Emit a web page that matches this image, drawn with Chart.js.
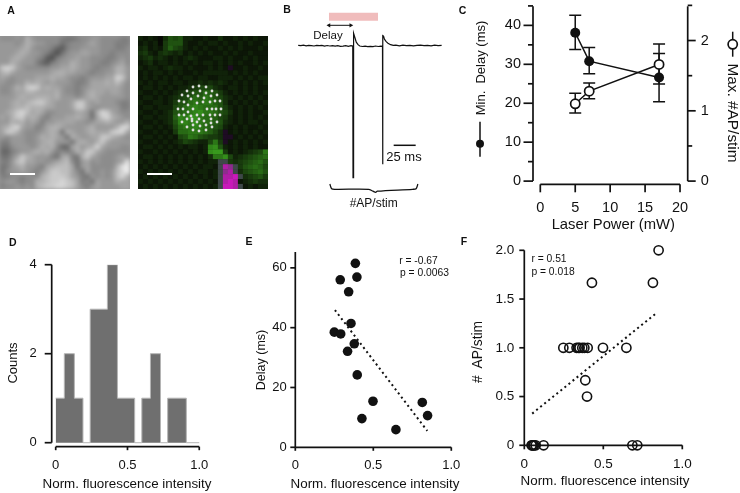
<!DOCTYPE html>
<html>
<head>
<meta charset="utf-8">
<title>Figure</title>
<script src="https://cdn.jsdelivr.net/npm/chart.js"></script>
<style>
body { margin: 0; background: #fff; }
#page { position: relative; width: 740px; height: 493px; overflow: hidden; font-family: "Liberation Sans", Arial, sans-serif; color: #111; }
#page > canvas { position: absolute; left: 0; top: 0; }
.lbl { position: absolute; white-space: pre; line-height: 1; transform: translate(-50%, -50%); }
.img { position: absolute; top: 36px; width: 130px; height: 153px; overflow: hidden; }
.img canvas { position: absolute; left: -10px; top: -10px; }
.bar { position: absolute; height: 2px; width: 25px; background: #fff; top: 172.7px; }
svg { position: absolute; left: 0; top: 0; }
</style>
</head>
<body>
<div id="page">
  <div class="img" style="left:0"><canvas id="grayImg" width="150" height="173" style="background:#999;filter:blur(2px)"></canvas></div>
  <div class="img" style="left:137.5px;outline:1px solid #999;outline-offset:-1px"><canvas id="greenImg" width="150" height="173" style="background:#111;filter:blur(.6px)"></canvas></div>
  <div class="bar" style="left:10px"></div>
  <div class="bar" style="left:147.3px"></div>
  <svg width="740" height="493">
    <line x1="480" y1="121.7" x2="480" y2="156.7" stroke="#111" stroke-width="1.5"/>
    <circle cx="480" cy="143.7" r="4" fill="#111"/>
    <line x1="732.7" y1="31.7" x2="732.7" y2="56.7" stroke="#111" stroke-width="1.5"/>
    <circle cx="732.7" cy="44.3" r="4.6" fill="#fff" stroke="#111" stroke-width="1.7"/>
  </svg>
</div>
<script>
// panel A, bright field (one hex digit per cell, dark to light)
const grayRows = [
"77787a87777765567788777766",
"88878a98877756777898777666",
"88889a87776436778888777667",
"8889a988764257889988776777",
"889a9887632678898877766787",
"88a98886436788a98877667897",
"cdc98777778899a98876778aa8",
"ab988888889aa9988767788aa8",
"9878888999a998776788899dc8",
"87788a9a9898887667999a9b97",
"778a9cdc9a9987767899999987",
"77899aa9999a877679a9989987",
"8889a99aaa9a888789a9888887",
"889a9abcca98889cc989888766",
"889aabaaa998889cc987888866",
"89acdb9a97788889985adc9877",
"98acc9a97688899a9859cda987",
"88a9a8986889999887899a988a",
"9acd988679aa988889a8888add",
"9cca877789a95a9889a999cdd9",
"87888778a9a985a98899cca987",
"668887789aa88859a98ac98888",
"55788878a9a7449a89ad988877",
"4467889a9a86767a9cc9877777",
"5579ca9888659a65ac98777898",
"668bc9988789ab75897877789e",
"5689a88769abbb958977777aef",
"578898768accbb975977878bdf",
"66776777abcccb986587878bda",
"7887677aabccdcb96759888a99",
"6778787abccddcb97689888899"
];
// panel A, fluorescence (0-f green, g grey, m n p magenta, q dark purple)
const greenRows = [
"21210365622112113112121211",
"12120466621121221211212112",
"23121475421212112121211121",
"34213432312121211212112111",
"23423212123211122121121211",
"12312212121212212121211212",
"212212322121112121q1121121",
"12122121211212222212121211",
"12121212122122112221212122",
"21212212212232323212121212",
"12212121223455532122121211",
"21121212345668764212121212",
"12212123456879865321212121",
"21122124668989976312121212",
"12212225689a98886421212121",
"21121236789ab9986531212112",
"12212237a9bb98875421212121",
"21121236aa9b98876321212212",
"12212125899a98765212121121",
"21121214889998753q12121212",
"12212121569865443qq1212121",
"21121212354322594q12121212",
"12212121212212ab6212121211",
"21121212121212bcc412123459",
"12212121212121399b52345678",
"2121212121212122gg43456786",
"1212121212121221gmng467875",
"2121212121212212gnmg356786",
"1212121212121212gmmpg34564",
"2121212121212121gmpm123433",
"1212121212121212gppmg12122"
];
// photostimulation spots on the fluorescence image
const spotX = [55,61,68,49,55,62,68,74,44,50,60,66,73,79,53,41,46,59,65,72,77,82,50,40,45,55,69,74,78,83,50,41,46,53,59,65,72,77,82,49,54,61,66,73,44,54,59,79,73,49,55,62,68,74,55,61,68];
const spotY = [51,50,51,55,57,55,57,55,59,60,60,62,60,59,63,65,66,67,66,66,65,65,69,73,73,73,73,73,73,73,76,79,79,80,79,79,79,79,79,83,83,83,85,83,86,85,86,86,87,91,89,90,89,91,94,95,94];

// panel B, recorded trace (ms, arbitrary units)
const traceTime = [-35,-32,-29,-26,-23,-20,-17,-14,-11,-8,-5,-2,1,4,7,10,13,16,19,22,25,27,27.3,27.5,28.4,29.5,31,33,35,38,41,44,47,50,53,56,59,60.8,61,61.2,62,63,65,67,70,73,76,80,84,88,92,96,100,104,108,112,116,120,124,128];
const traceValue = [.3,0,.5,-.2,.4,.1,-.3,.4,0,.3,-.4,.2,-.3,.1,-.5,0,-.7,-.4,.1,-.6,0,-.4,-132,12,12.4,8,3.5,1,-.3,-.8,-.4,-1,-.6,-1,-.3,-.8,-.5,-.6,-118.6,10,9.5,6.5,4,2.5,1,.3,.6,-.1,.5,0,.4,-.2,.3,.6,0,.4,-.1,.5,.1,.3];
const stimTime = [0, 55.7];
const delayTime = [0, 24.7];
const scaleBarTime = [73.5, 98.5];
const braceTime = [1,3,7,45,50,53,55,95,99,101];
const braceValue = [-138.3,-143,-143.6,-143.6,-145.5,-146.6,-145.5,-143.6,-143,-138.3];

// panel C
const laserPower = [5, 7, 17];
const minDelay = [38.1, 30.8, 26.6];
const minDelayLow = [33.8, 27.6, 20.4];
const minDelayHigh = [42.6, 34.3, 32.8];
const maxAp = [1.10, 1.28, 1.66];
const maxApLow = [.968, 1.17, 1.38];
const maxApHigh = [1.25, 1.396, 1.95];
const cTickX = [0, 5, 10, 15, 20];
const cTickY = [0, 10, 20, 30, 40];
const cMinorY = [5, 15, 25, 35, 45];
const cTickAp = [0, 1, 2];
const cMinorAp = [.5, 1.5, 2.5];

// panel D
const histEdges = [0,.06,.13,.19,.24,.36,.43,.55,.6,.66,.73,.78,.91,1];
const histCounts = [1,2,1,0,3,4,1,0,1,2,0,1,0,0];
const dTickY = [0, 2, 4];

// panel E
const eIntensity = [.385,.395,.288,.342,.357,.25,.291,.378,.335,.397,.498,.814,.848,.427,.645];
const eDelay = [61.5,56.9,56,52,41.4,38.5,37.9,34.6,32.1,24.2,15.4,15,10.6,9.6,5.9];
const eFitX = [.254, .846];
const eFitY = [45.9, 5.5];
const eTickY = [0, 20, 40, 60];

// panel F
const fIntensity = [.85,.428,.814,.247,.285,.331,.342,.35,.367,.38,.401,.498,.646,.386,.397,.046,.05,.057,.062,.072,.122,.684,.715];
const fAp = [2,1.667,1.667,1,1,1,1,1,1,1,1,1,1,.667,.5,0,0,0,0,0,0,0,0];
const fFitX = [.05, .829];
const fFitY = [.325, 1.347];
const fTickY = [0, .5, 1, 1.5, 2];
const fTickLabels = ["0", "0.5", "1.0", "1.5", "2.0"];

const normTicks = [0, .5, 1];
const normLabels = ["0", "0.5", "1.0"];

// text placed on the page: text, x, y, size, rotation, weight
const pageText = [
  ["A", 11, 10, 10.5, 0, "bold"], ["B", 287, 8.5, 10.5, 0, "bold"], ["C", 462.5, 10, 10.5, 0, "bold"],
  ["D", 12.7, 242.3, 10.5, 0, "bold"], ["E", 249, 241, 10.5, 0, "bold"], ["F", 464, 241, 10.5, 0, "bold"],
  ["Delay", 328, 36, 11.5], ["25 ms", 404, 156, 13], ["#AP/stim", 373.7, 203, 12],
  ["Min.  Delay (ms)", 480, 68, 13, -90], ["Max. #AP/stim", 732.7, 113, 15.4, 90], ["Laser Power (mW)", 613.3, 224.3, 14.8],
  ["Counts", 12.3, 363.3, 13, -90], ["Norm. fluorescence intensity", 127, 484.3, 13.4],
  ["Delay (ms)", 260.7, 359.6, 12.5, -90], ["Norm. fluorescence intensity", 375, 484, 13.4],
  ["r = -0.67", 418.5, 260.7, 10.3], ["p = 0.0063", 424.5, 273.3, 10.3],
  ["#  AP/stim", 478, 352.3, 13.8, -90], ["Norm. fluorescence intensity", 605, 480.7, 13.4],
  ["r = 0.51", 549, 259.3, 10.3], ["p = 0.018", 553, 272.3, 10.3]
];

const page = document.getElementById("page");
pageText.forEach(([text, x, y, size, rot, weight]) => {
  const el = document.createElement("div");
  el.className = "lbl";
  el.textContent = text;
  el.style.left = x + "px";
  el.style.top = y + "px";
  el.style.fontSize = size + "px";
  if (weight) el.style.fontWeight = weight;
  if (rot) el.style.transform = "translate(-50%,-50%) rotate(" + rot + "deg)";
  page.appendChild(el);
});

Chart.defaults.font.family = '"Liberation Sans", Arial, sans-serif';
Chart.defaults.color = "#111";

// axis lines and tick marks, offset from the data like the original figure
const spinesPlugin = {
  id: "spines",
  afterDatasetsDraw(chart, args, opts) {
    const ctx = chart.ctx, area = chart.chartArea;
    ctx.save();
    ctx.strokeStyle = "#111";
    ctx.lineWidth = 1.7;
    (opts.list || []).forEach(s => {
      const sc = chart.scales[s.scale];
      const line = (x1, y1, x2, y2) => { ctx.beginPath(); ctx.moveTo(x1, y1); ctx.lineTo(x2, y2); ctx.stroke(); };
      const ticks = [...s.major.map(v => [v, s.len]), ...(s.minor || []).map(v => [v, s.minorLen])];
      if (s.side === "bottom") {
        line(sc.getPixelForValue(s.from), area.bottom, sc.getPixelForValue(s.to), area.bottom);
        ticks.forEach(([v, l]) => line(sc.getPixelForValue(v), area.bottom, sc.getPixelForValue(v), area.bottom + l));
      } else {
        const x0 = s.side === "left" ? area.left : area.right, dir = s.side === "left" ? -1 : 1;
        line(x0, sc.getPixelForValue(s.from), x0, sc.getPixelForValue(s.to));
        ticks.forEach(([v, l]) => line(x0, sc.getPixelForValue(v), x0 + dir * l, sc.getPixelForValue(v)));
      }
    });
    ctx.restore();
  }
};

// vertical error bars with caps, drawn under the points
const errorBarsPlugin = {
  id: "errorBars",
  beforeDatasetsDraw(chart, args, opts) {
    const ctx = chart.ctx;
    ctx.save();
    ctx.strokeStyle = "#111";
    ctx.lineWidth = 1.5;
    (opts.list || []).forEach(e => {
      const sx = chart.scales.x, sy = chart.scales[e.scale];
      e.x.forEach((v, i) => {
        const px = sx.getPixelForValue(v), lo = sy.getPixelForValue(e.low[i]), hi = sy.getPixelForValue(e.high[i]);
        ctx.beginPath();
        ctx.moveTo(px, lo); ctx.lineTo(px, hi);
        ctx.moveTo(px - 6, lo); ctx.lineTo(px + 6, lo);
        ctx.moveTo(px - 6, hi); ctx.lineTo(px + 6, hi);
        ctx.stroke();
      });
    });
    ctx.restore();
  }
};
Chart.register(spinesPlugin, errorBarsPlugin);

const pts = (xs, ys) => xs.map((x, i) => ({ x: x, y: ys[i] }));
const AXIS_BOX = 36;

function linearAxis(min, max, ticks, labels, padding, size, position) {
  return {
    type: "linear", position: position, min: min, max: max,
    grid: { display: false, drawTicks: false }, border: { display: false },
    afterBuildTicks: s => { s.ticks = ticks.map(v => ({ value: v })); },
    afterFit: s => { if (s.isHorizontal()) s.height = AXIS_BOX; else s.width = AXIS_BOX; s.paddingLeft = s.paddingRight = s.paddingTop = s.paddingBottom = 0; },
    ticks: { padding: padding, autoSkip: false, maxRotation: 0, font: { size: size },
      callback: (v, i) => labels ? labels[i] : String(v) }
  };
}

function panel(area, datasets, scales, plugins) {
  const canvas = document.createElement("canvas");
  canvas.width = 740;
  canvas.height = 493;
  page.appendChild(canvas);
  const pad = { left: area[0], top: area[1], right: 740 - area[2], bottom: 493 - area[3] };
  if (scales.y && scales.y.afterFit) { pad.left -= AXIS_BOX; pad.bottom -= AXIS_BOX; }
  if (scales.y1) pad.right -= AXIS_BOX;
  return new Chart(canvas, {
    type: "scatter",
    data: { datasets: datasets },
    options: {
      responsive: false, animation: false, events: [],
      layout: { padding: pad },
      scales: scales,
      plugins: Object.assign({ legend: { display: false }, tooltip: { enabled: false } }, plugins)
    }
  });
}

const hidden = (min, max, reverse) => ({ type: "linear", display: false, min: min, max: max, reverse: !!reverse });

// panel A images are cell grids
function cellChart(id, rows, colorOf, extra) {
  const cells = [], colors = [];
  rows.forEach((row, r) => {
    for (let c = 0; c < 26; c++) {
      cells.push({ x: c + .5, y: r + .5 });
      colors.push(colorOf(row[c] || rows[r - 1][c]));
    }
  });
  new Chart(document.getElementById(id), {
    type: "scatter",
    data: { datasets: [...extra, { data: cells, pointStyle: "rect", pointRadius: 3.7, pointBorderWidth: 0, pointBackgroundColor: colors, clip: false }] },
    options: {
      responsive: false, animation: false, events: [],
      layout: { padding: 10 },
      scales: { x: hidden(0, 26), y: hidden(0, 31, true) },
      plugins: { legend: { display: false }, tooltip: { enabled: false } }
    }
  });
}
cellChart("grayImg", grayRows, d => {
  const v = 52 + parseInt(d, 16) * 12.5;
  return "rgb(" + v + "," + v + "," + v + ")";
}, []);
const specialCells = { m: "rgb(175,30,165)", n: "rgb(140,45,140)", p: "rgb(200,25,185)", q: "rgb(30,12,35)", g: "rgb(62,72,72)" };
cellChart("greenImg", greenRows, d => {
  if (specialCells[d]) return specialCells[d];
  const v = parseInt(d, 16);
  return "rgb(" + (8 + v * 4) + "," + (10 + v * 12) + "," + (5 + v * 2) + ")";
}, [{ data: pts(spotX.map(x => x * 26 / 130), spotY.map(y => y * 31 / 153)), pointRadius: 1.4, pointBorderWidth: 0, pointBackgroundColor: "#ddd", clip: false }]);

// panel B
panel([290, 5, 450, 210], [
  { data: pts(traceTime, traceValue), showLine: true, borderColor: "#111", borderWidth: 1.2, pointRadius: 0 },
  { data: pts(stimTime, [28.9, 28.9]), showLine: true, borderColor: "#f0bcbc", borderWidth: 8, pointRadius: 0 },
  { data: pts(delayTime, [20.4, 20.4]), showLine: true, borderColor: "#111", borderWidth: 1, pointStyle: "triangle", pointRadius: 2.5, pointRotation: [-90, 90], pointBackgroundColor: "#111", pointBorderWidth: 0 },
  { data: pts(scaleBarTime, [-99.6, -99.6]), showLine: true, borderColor: "#111", borderWidth: 1.5, pointRadius: 0 },
  { data: pts(braceTime, braceValue), showLine: true, borderColor: "#111", borderWidth: 1.3, pointRadius: 0, tension: .3 }
], { x: hidden(-44.3, 137.5), y: hidden(-164.3, 40.7) });

// panel C
panel([533, .7, 687.7, 184.3], [
  { data: pts(laserPower, maxAp), yAxisID: "y1", showLine: true, borderColor: "#111", borderWidth: 1.5, pointRadius: 4.6, pointBorderWidth: 1.7, pointBackgroundColor: "#fff", pointBorderColor: "#111" },
  { data: pts(laserPower, minDelay), yAxisID: "y", showLine: true, borderColor: "#111", borderWidth: 1.5, pointRadius: 5, pointBorderWidth: 0, pointBackgroundColor: "#111" }
], {
  x: linearAxis(-1.045, 21.1, cTickX, null, 15, 14.5),
  y: linearAxis(-.82, 44.9, cTickY, null, 12, 14.5),
  y1: linearAxis(-.0456, 2.487, cTickAp, null, 13, 14.5, "right")
}, {
  errorBars: { list: [
    { scale: "y", x: laserPower, low: minDelayLow, high: minDelayHigh },
    { scale: "y1", x: laserPower, low: maxApLow, high: maxApHigh }
  ] },
  spines: { list: [
    { scale: "x", side: "bottom", from: 0, to: 20, major: cTickX, len: 8 },
    { scale: "y", side: "left", from: 0, to: 44.9, major: cTickY, len: 9.5, minor: cMinorY, minorLen: 5 },
    { scale: "y1", side: "right", from: 0, to: 2.487, major: cTickAp, len: 8, minor: cMinorAp, minorLen: 4.5 }
  ] }
});

// panel D
panel([51.7, 264.7, 205, 446.7], [
  { data: pts(histEdges, histCounts), showLine: true, stepped: "before", fill: "origin", backgroundColor: "#6f6f6f", borderColor: "#b5b5b5", borderWidth: 1, pointRadius: 0 }
], {
  x: linearAxis(-.0279, 1.04, normTicks, normLabels, 11, 13),
  y: linearAxis(-.09, 4, dTickY, null, 15, 13)
}, {
  spines: { list: [
    { scale: "x", side: "bottom", from: 0, to: 1, major: normTicks, len: 3.5 },
    { scale: "y", side: "left", from: 0, to: 4, major: dTickY, len: 7 }
  ] }
});

// panel E
panel([295.3, 252, 451.3, 447.3], [
  { data: pts(eIntensity, eDelay), pointRadius: 4.8, pointBorderWidth: 0, pointBackgroundColor: "#111", clip: false },
  { data: pts(eFitX, eFitY), showLine: true, borderColor: "#111", borderWidth: 2, borderDash: [2, 3.2], pointRadius: 0 }
], {
  x: linearAxis(0, 1, normTicks, normLabels, 10, 13),
  y: linearAxis(0, 65.3, eTickY, null, 8.5, 13)
}, {
  spines: { list: [
    { scale: "x", side: "bottom", from: 0, to: 1, major: normTicks, len: 3.5 },
    { scale: "y", side: "left", from: 0, to: 65.3, major: eTickY, len: 5 }
  ] }
});

// panel F
panel([524.3, 250.3, 682.3, 445.3], [
  { data: pts(fIntensity, fAp), pointRadius: 4.6, pointBorderWidth: 1.6, pointBorderColor: "#111", pointBackgroundColor: "rgba(0,0,0,0)", clip: false },
  { data: pts(fFitX, fFitY), showLine: true, borderColor: "#111", borderWidth: 2, borderDash: [2, 3.2], pointRadius: 0 }
], {
  x: linearAxis(0, 1, normTicks, normLabels, 11, 13.5),
  y: linearAxis(0, 2, fTickY, fTickLabels, 10, 13.5)
}, {
  spines: { list: [
    { scale: "x", side: "bottom", from: 0, to: 1, major: normTicks, len: 4 },
    { scale: "y", side: "left", from: 0, to: 2, major: fTickY, len: 5 }
  ] }
});
</script>
</body>
</html>
